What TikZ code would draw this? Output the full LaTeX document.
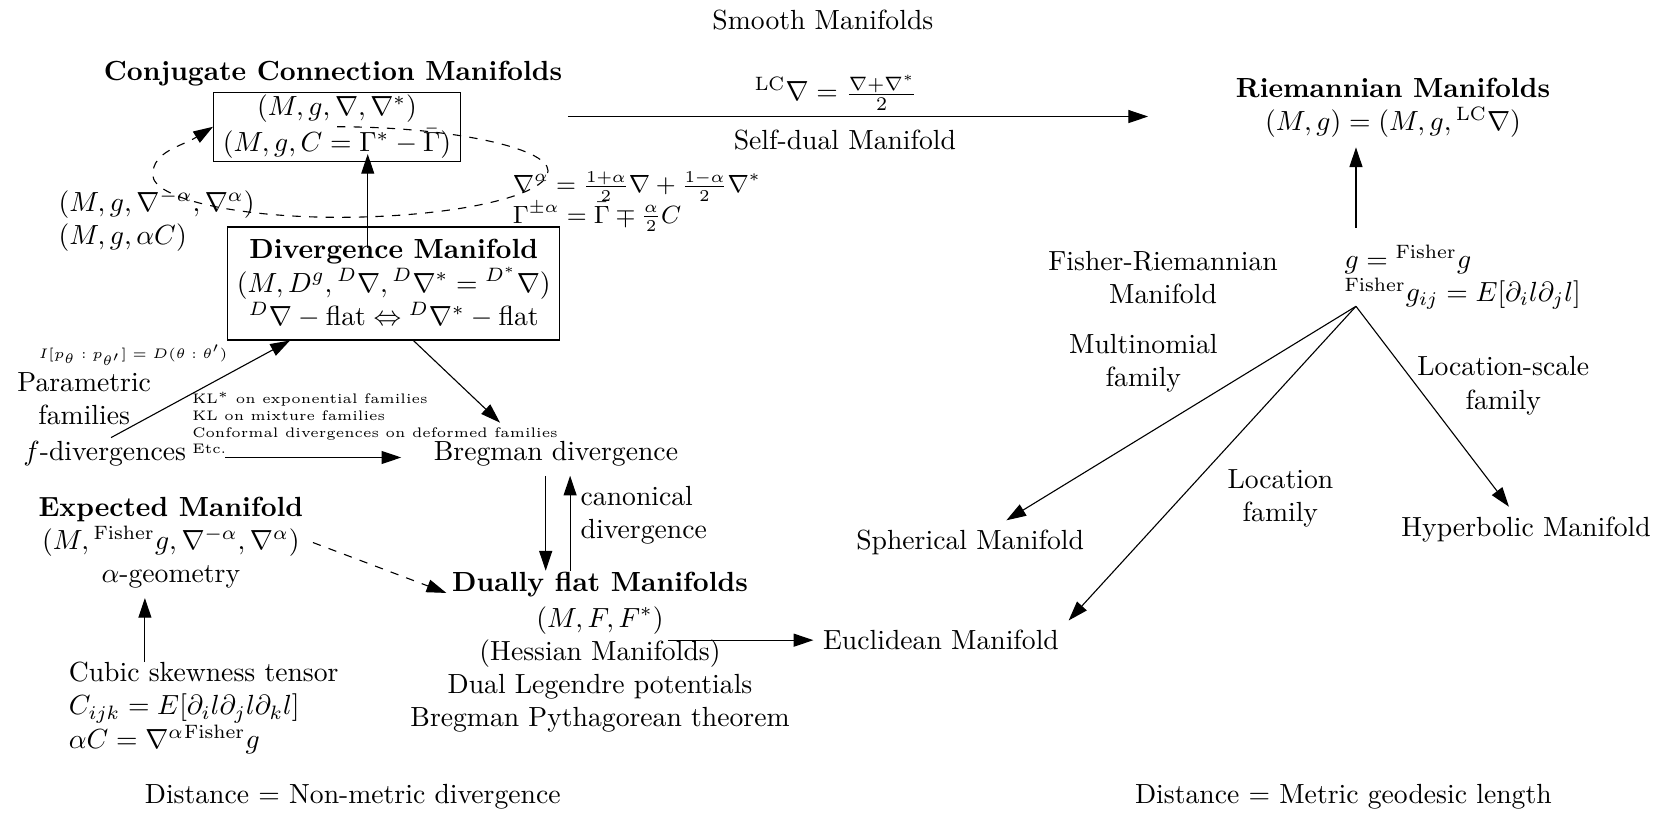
\documentclass[tikz,border=0pt]{standalone}
\usetikzlibrary{arrows.meta}
\begin{document}
\begin{tikzpicture}[>={Triangle[length=2.5mm,width=1.65mm]},
	box/.style={draw,align=center},
	txt/.style={align=center},
	note/.style={font=\tiny,align=left,inner sep=1pt}]
	\useasboundingbox (0,0) rectangle (21.03,10.34);
	% conjugate connection and Riemannian manifolds
	\node (smooth) at (10.45,10.08) {Smooth Manifolds};
	\node (conjtitle) at (4.23,9.40) {\textbf{Conjugate Connection Manifolds}};
	\node[box,inner ysep=1pt] (conj) at (4.28,8.73) {$(M,g,\nabla,\nabla^*)$\\[1pt]$(M,g,C=\Gamma^*-\bar\Gamma)$};
	\node[txt] (riem) at (17.69,8.97) {\textbf{Riemannian Manifolds}\\$(M,g)=(M,g,{}^{\mathrm{LC}}\nabla)$};
	\node (lc) at (10.62,9.16) {${}^{\mathrm{LC}}\nabla=\frac{\nabla+\nabla^*}{2}$};
	\node (selfdual) at (10.73,8.56) {Self-dual Manifold};
	\coordinate (sdA) at (7.21,8.86);
	\coordinate (sdB) at (14.58,8.86);
	\draw[->] (sdA) -- (sdB);
	\node[align=left,anchor=west] (alphapair) at (0.62,7.54) {$(M,g,\nabla^{-\alpha},\nabla^\alpha)$\\$(M,g,\alpha C)$};
	\node[font=\small,align=left,anchor=west] (alphaconn) at (6.39,7.78) {$\nabla^\alpha=\frac{1+\alpha}{2}\nabla+\frac{1-\alpha}{2}\nabla^*$\\$\Gamma^{\pm\alpha}=\bar\Gamma\mp\frac{\alpha}{2}C$};
	\draw[dashed,->] (conj.center) .. controls +(1.4,0) and +(0,0.3) .. (6.96,8.17)
		.. controls +(0,-0.33) and +(1.4,0) .. (4.3,7.58)
		.. controls +(-1.3,0) and +(0,-0.3) .. (1.94,8.12)
		.. controls +(0,0.3) and +(-0.4,-0.25) .. (conj.west);
	% divergence manifold
	\node[box,inner ysep=4.5pt] (div) at (5.00,6.74) {\textbf{Divergence Manifold}\\$(M,D^g,{}^D\nabla,{}^D\nabla^*={}^{D^*}\nabla)$\\${}^D\nabla-\mathrm{flat}\Leftrightarrow{}^D\nabla^*-\mathrm{flat}$};
	\coordinate (dvtop) at (4.67,7.19);
	\coordinate (dvend) at (dvtop |- conj.south);
	\draw[->] (dvtop) -- ([yshift=1mm]dvend);
	\node[font=\tiny] (ilbl) at (1.69,5.83) {$I[p_\theta:p_{\theta'}]=D(\theta:\theta')$};
	\node[txt] (param) at (1.07,5.28) {Parametric\\families};
	\node (fdiv) at (1.33,4.58) {$f$-divergences};
	\node[note,anchor=west] (kl) at (2.40,4.97) {KL$^*$ on exponential families\\KL on mixture families\\Conformal divergences on deformed families\\Etc.};
	\node (breg) at (7.06,4.58) {Bregman divergence};
	\draw[->] ([xshift=0.08cm,yshift=-0.08cm]fdiv.north) -- ([xshift=0.8cm]div.south west);
	\draw[->] ([xshift=0.25cm]div.south) -- ([xshift=-0.71cm,yshift=0.11cm]breg.north);
	\draw[->,shorten <=0.37cm,shorten >=0.29cm] ([yshift=-0.05cm]fdiv.east) -- ([yshift=-0.05cm]breg.west);
	% dually flat
	\node[inner sep=0.5pt] (dftitle) at (7.62,2.91) {\textbf{Dually flat Manifolds}};
	\node[txt] (dfbody) at (7.62,1.84) {$(M,F,F^*)$\\(Hessian Manifolds)\\Dual Legendre potentials\\Bregman Pythagorean theorem};
	\coordinate (bregdn) at ([xshift=-0.13cm]breg.south);
	\coordinate (bregup) at ([xshift=0.18cm]breg.south);
	\draw[->] (bregdn) -- (bregdn |- dftitle.north);
	\draw[->] (bregup |- dftitle.north) -- (bregup);
	\node[align=left,anchor=west] (canon) at (7.25,3.80) {canonical\\divergence};
	\node[txt] (expected) at (2.17,3.45) {\textbf{Expected Manifold}\\$(M,{}^{\mathrm{Fisher}}g,\nabla^{-\alpha},\nabla^\alpha)$\\$\alpha$-geometry};
	\draw[dashed,->] (expected.east) -- ([xshift=-0.05cm,yshift=-0.1cm]dftitle.west);
	\node[align=left,anchor=west] (cubic) at (0.75,1.35) {Cubic skewness tensor\\$C_{ijk}=E[\partial_i l\partial_j l\partial_k l]$\\$\alpha C=\nabla^{\alpha}{}^{\mathrm{Fisher}}g$};
	\coordinate (cubtop) at (1.84,1.93);
	\draw[->] (cubtop) -- (cubtop |- expected.south);
	\coordinate (dfout) at (8.48,2.21);
	\node (eucl) at (11.95,2.21) {Euclidean Manifold};
	\draw[->] (dfout) -- (eucl);
	% Fisher-Riemannian side
	\node[align=left,anchor=west] (fisher) at (16.95,6.82) {$g={}^{\mathrm{Fisher}}g$\\${}^{\mathrm{Fisher}}g_{ij}=E[\partial_i l\partial_j l]$};
	\coordinate (hub) at (17.22,6.45);
	\coordinate (fishtop) at (17.22,7.45);
	\draw[->] (fishtop) -- (fishtop |- riem.south);
	\node[txt] (fishriem) at (14.77,6.82) {Fisher-Riemannian\\Manifold};
	\node[txt] (multi) at (14.52,5.73) {Multinomial\\family};
	\node[txt] (locscale) at (19.09,5.44) {Location-scale\\family};
	\node[txt] (loc) at (16.26,4.01) {Location\\family};
	\node (spher) at (12.32,3.45) {Spherical Manifold};
	\node (hyper) at (19.38,3.62) {Hyperbolic Manifold};
	\draw[->] (hub) -- (spher);
	\draw[->] (hub) -- (eucl.north east);
	\draw[->] (hub) -- (hyper);
	% distances
	\node (dist1) at (4.48,0.22) {Distance = Non-metric divergence};
	\node (dist2) at (17.06,0.22) {Distance = Metric geodesic length};
\end{tikzpicture}
\end{document}
